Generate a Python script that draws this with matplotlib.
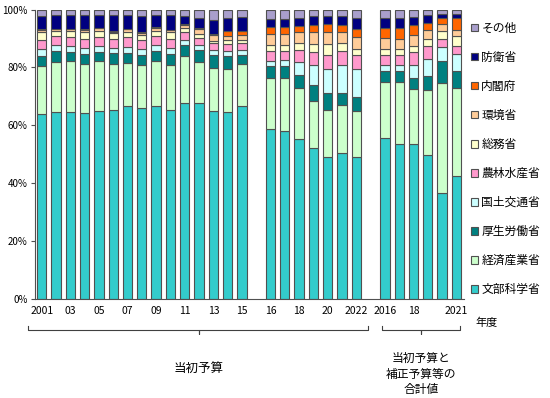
import numpy as np
import matplotlib
matplotlib.use('Agg')
import matplotlib.pyplot as plt
from matplotlib.patches import Patch
from matplotlib.lines import Line2D

plt.rcParams['font.family'] = ['Noto Sans CJK JP', 'DejaVu Sans']

# 2001-2015, 2016-2022 (当初予算), 2016-2021 (当初予算と補正予算等の合計値)
tick_slots = [0, 2, 4, 6, 8, 10, 12, 14, 16, 18, 20, 22, 24, 26, 29]
tick_labels = ['2001', '03', '05', '07', '09', '11', '13', '15',
               '16', '18', '20', '2022', '2016', '18', '2021']

series_names = ['文部科学省', '経済産業省', '厚生労働省', '国土交通省', '農林水産省',
                '総務省', '環境省', '内閣府', '防衛省', 'その他']
series_colors = ['#33CCCC', '#CCFFCC', '#008080', '#CCFFFF', '#FF99CC',
                 '#FFFFCC', '#FFCC99', '#FF6600', '#000080', '#A99FCC']

monka = [63.9, 64.1, 63.9, 63.6, 64.6, 64.6, 66.0, 65.1, 65.7, 64.9, 67.0, 67.0, 64.4, 63.6, 65.6,
         57.7, 57.3, 54.4, 51.7, 48.5, 50.1, 48.9,
         55.5, 53.5, 53.0, 49.6, 36.2, 41.9]
keisan = [16.5, 17.1, 17.1, 16.8, 16.9, 15.8, 14.6, 14.7, 15.3, 15.5, 16.3, 14.0, 14.4, 14.8, 14.3,
          17.5, 17.9, 17.2, 16.0, 16.3, 16.3, 15.7,
          19.1, 21.3, 19.0, 22.4, 37.8, 30.3]
kourou = [3.5, 3.6, 3.3, 3.5, 3.3, 3.7, 3.5, 3.5, 3.5, 3.9, 3.6, 4.2, 4.6, 4.3, 3.0,
          4.0, 4.0, 4.4, 5.5, 5.6, 4.3, 4.9,
          3.9, 3.7, 3.8, 4.5, 7.6, 5.7]
kokudo = [2.3, 2.0, 2.0, 2.2, 2.1, 1.8, 2.0, 2.0, 2.0, 1.9, 1.6, 1.6, 1.5, 1.9, 1.8,
          1.8, 2.1, 4.6, 6.9, 8.5, 9.6, 9.7,
          2.1, 2.1, 4.5, 6.0, 4.8, 5.8]
nourin = [3.3, 3.1, 3.0, 3.0, 3.1, 3.0, 3.5, 3.1, 3.2, 3.2, 2.8, 2.5, 2.4, 2.2, 2.2,
          3.3, 3.2, 4.2, 4.7, 4.5, 4.8, 4.6,
          3.3, 3.3, 4.3, 4.5, 2.8, 2.8]
soumu = [2.8, 1.8, 2.1, 2.4, 2.1, 2.1, 1.7, 1.7, 1.8, 2.4, 1.6, 1.4, 1.0, 1.3, 1.2,
         2.1, 2.1, 2.1, 2.6, 3.9, 2.8, 2.3,
         2.2, 2.2, 2.2, 2.2, 2.8, 3.3]
kankyo = [0.6, 0.5, 0.5, 0.6, 0.7, 0.5, 0.8, 0.8, 0.9, 0.5, 0.8, 1.8, 1.9, 1.4, 1.5,
          3.8, 3.6, 3.7, 4.1, 4.1, 3.6, 3.9,
          3.7, 3.5, 3.8, 3.1, 2.4, 2.1]
naikaku = [0.3, 0.3, 0.3, 0.3, 0.3, 0.3, 0.3, 0.3, 0.4, 0.3, 0.4, 0.3, 0.3, 1.8, 1.4,
           2.3, 2.4, 2.3, 2.4, 2.7, 2.5, 2.7,
           3.5, 3.8, 3.4, 2.6, 2.0, 4.2]
bouei = [4.4, 4.6, 4.6, 4.9, 4.3, 5.4, 4.6, 5.4, 4.0, 4.9, 2.7, 3.4, 4.9, 4.4, 4.6,
         2.8, 2.8, 2.6, 3.0, 2.9, 3.0, 3.9,
         3.3, 3.3, 2.8, 2.8, 1.5, 1.5]
sonota = [2.4, 1.9, 1.9, 1.9, 1.9, 1.9, 1.9, 2.3, 1.9, 2.0, 2.3, 2.9, 3.5, 2.9, 2.7,
          3.2, 3.2, 2.9, 2.3, 2.1, 2.3, 2.9,
          2.9, 2.9, 2.5, 1.8, 1.4, 1.4]

data = np.array([monka, keisan, kourou, kokudo, nourin, soumu, kankyo, naikaku, bouei, sonota])
shares = data / data.sum(axis=0) * 100

# bar slots: one empty slot between the groups
x = np.array(list(range(0, 15)) + list(range(16, 23)) + list(range(24, 30)))

fig = plt.figure(figsize=(5.5, 3.98), dpi=100)
ax = fig.add_axes([0.0629, 0.2487, 0.780, 0.7274])

bottom = np.zeros(len(x))
for vals, name, col in zip(shares, series_names, series_colors):
    ax.bar(x, vals, bottom=bottom, width=0.65, color=col,
           edgecolor='#505050', linewidth=0.8, label=name)
    bottom += vals

ax.set_xlim(-0.5, 29.5)
ax.set_ylim(0, 100)
ax.set_yticks(range(0, 101, 20))
ax.set_yticklabels([f'{v}%' for v in range(0, 101, 20)], fontsize=7)
ax.set_xticks(tick_slots)
ax.set_xticklabels(tick_labels, fontsize=7.5)
ax.tick_params(axis='x', length=0, pad=5)
ax.tick_params(axis='y', length=3, width=0.8, color='#505050', pad=2)
for s in ['top', 'right']:
    ax.spines[s].set_visible(False)
ax.spines['left'].set_color('#505050')
ax.spines['bottom'].set_color('#505050')

fig.text(487 / 550, 1 - 323 / 398, '年度', fontsize=8, ha='center', va='center')

# braces under the axis
def brace(x0, x1, xm, y):
    yf = 1 - y / 398
    up = 4 / 398
    xs = [x0 / 550, x0 / 550, xm / 550, xm / 550, xm / 550, x1 / 550, x1 / 550]
    ys = [yf + up, yf, yf, yf - up, yf, yf, yf + up]
    fig.add_artist(Line2D(xs, ys, color='#404040', linewidth=0.8))

brace(28, 368, 199, 330)
brace(382, 460, 421, 330)

fig.text(199 / 550, 1 - 368 / 398, '当初予算', fontsize=9, ha='center', va='center')
fig.text(421 / 550, 1 - 374 / 398, '当初予算と\n補正予算等の\n合計値', fontsize=8.5,
         ha='center', va='center', linespacing=1.3)

handles = [Patch(facecolor=c, edgecolor='#505050', linewidth=0.8)
           for c in series_colors][::-1]
fig.legend(handles, series_names[::-1], loc='upper left',
           bbox_to_anchor=(466 / 550, 1 - 17 / 398), frameon=False,
           fontsize=8.5, handlelength=0.6, handleheight=0.6, handletextpad=0.3,
           labelspacing=1.36, borderaxespad=0)

fig.savefig('out.png', dpi=100)
